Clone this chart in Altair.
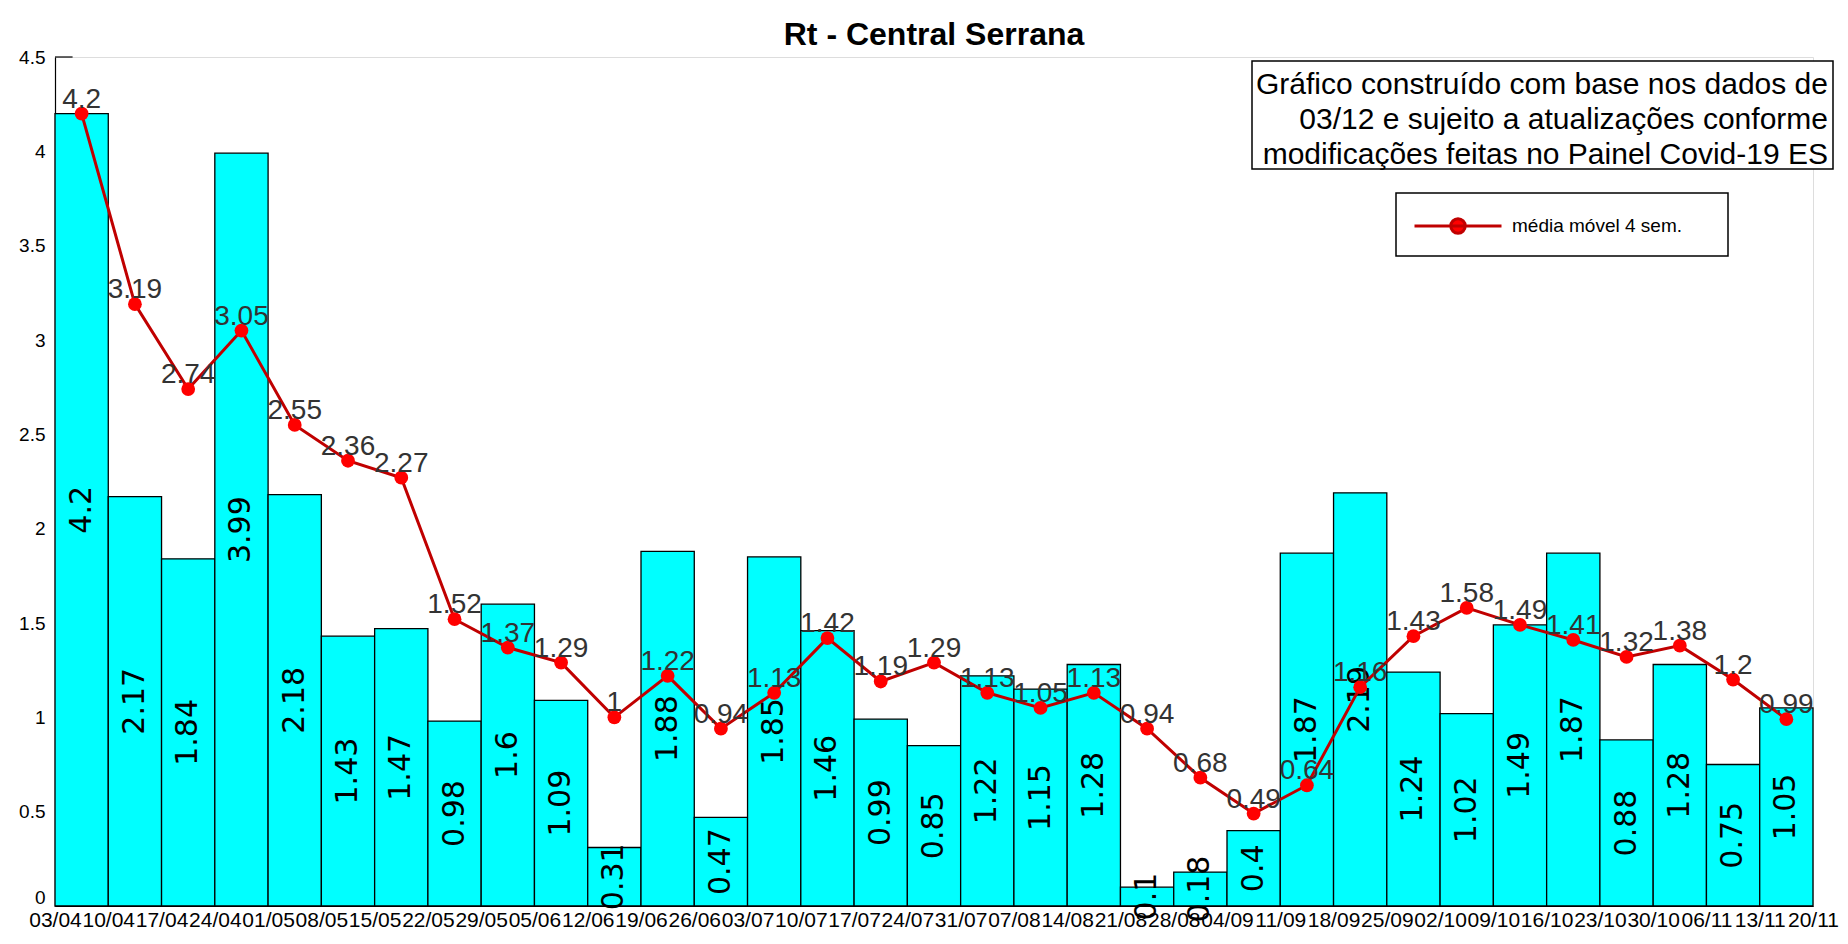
import json
import altair as alt
import pandas as pd

# ---------------- data ----------------
dates = ["03/04", "10/04", "17/04", "24/04", "01/05", "08/05", "15/05", "22/05", "29/05",
         "05/06", "12/06", "19/06", "26/06", "03/07", "10/07", "17/07", "24/07", "31/07",
         "07/08", "14/08", "21/08", "28/08", "04/09", "11/09", "18/09", "25/09", "02/10",
         "09/10", "16/10", "23/10", "30/10", "06/11", "13/11", "20/11"]
rt = [4.2, 2.17, 1.84, 3.99, 2.18, 1.43, 1.47, 0.98, 1.6, 1.09, 0.31, 1.88, 0.47, 1.85,
      1.46, 0.99, 0.85, 1.22, 1.15, 1.28, 0.1, 0.18, 0.4, 1.87, 2.19, 1.24, 1.02, 1.49,
      1.87, 0.88, 1.28, 0.75, 1.05]
mm = [4.2, 3.19, 2.74, 3.05, 2.55, 2.36, 2.27, 1.52, 1.37, 1.29, 1, 1.22, 0.94, 1.13,
      1.42, 1.19, 1.29, 1.13, 1.05, 1.13, 0.94, 0.68, 0.49, 0.64, 1.16, 1.43, 1.58, 1.49,
      1.41, 1.32, 1.38, 1.2, 0.99]
y_ticks = [0, 0.5, 1, 1.5, 2, 2.5, 3, 3.5, 4, 4.5]
note_lines = ["Gráfico construído com base nos dados de",
              "03/12 e sujeito a atualizações conforme",
              "modificações feitas no Painel Covid-19 ES"]
legend_label = "média móvel 4 sem."
chart_title = "Rt - Central Serrana"

FONT = "Liberation Sans"
n = len(rt)
W, H = 1758, 849

df = pd.DataFrame({"i": list(range(n)), "rt": rt, "mm": mm})
df["x0"] = df["i"] - 0.5
df["x1"] = df["i"] + 0.5
df["half"] = df["rt"] / 2
df["rt_lbl"] = [f"{v:g}" for v in rt]
df["mm_lbl"] = [f"{v:g}" for v in mm]
df["serie"] = legend_label

tick_df = pd.DataFrame({"v": y_ticks[1:]})
note_df = pd.DataFrame({"t": note_lines, "k": list(range(len(note_lines)))})
box_df = pd.DataFrame({"a": [0]})

xs = alt.Scale(domain=[-0.5, n - 0.5], nice=False, zero=False)
ys = alt.Scale(domain=[0, 4.5], nice=False)

label_expr = json.dumps(dates) + "[round(datum.value + 0.5)]"

x_axis = alt.Axis(values=[k - 0.5 for k in range(n + 1)], labelExpr=label_expr,
                  ticks=False, grid=False, labelFontSize=21, labelFont=FONT,
                  labelColor="black", domainColor="black", domainWidth=1.2,
                  labelOverlap=False, labelFlush=False, labelBound=False,
                  labelPadding=3, title=None)
y_axis = alt.Axis(values=y_ticks, labelExpr="'' + datum.value", ticks=False, grid=False,
                  labelFontSize=19, labelFont=FONT, labelColor="black",
                  labelOffset={"condition": {"test": "datum.value == 0", "value": -9}, "value": 0},
                  domainColor="black", domainWidth=1.2, labelPadding=10, title=None)

base = alt.Chart(df)

yticks = alt.Chart(tick_df).mark_rule(color="black", strokeWidth=1.2).encode(
    x=alt.datum(-0.5, scale=xs), x2=alt.datum(-0.17), y=alt.Y("v:Q", scale=ys)
)

bars = base.mark_bar(color="#00ffff", stroke="black", strokeWidth=1.3).encode(
    x=alt.X("x0:Q", scale=xs, axis=x_axis),
    x2="x1:Q",
    y=alt.Y("rt:Q", scale=ys, axis=y_axis),
    y2=alt.datum(0),
)

bar_labels = base.mark_text(angle=270, fontSize=30, font="DejaVu Sans", color="black",
                            align="center", baseline="middle").encode(
    x=alt.X("i:Q", scale=xs), y=alt.Y("half:Q", scale=ys), text="rt_lbl:N"
)

# legend symbol: a line segment with a dot in its middle
sym = "M-1,0H5M1.5,0A0.5,0.5,0,1,0,2.5,0A0.5,0.5,0,1,0,1.5,0Z"
line = base.mark_line(strokeWidth=3).encode(
    x=alt.X("i:Q", scale=xs), y=alt.Y("mm:Q", scale=ys),
    color=alt.Color("serie:N", scale=alt.Scale(domain=[legend_label], range=["#c00000"]),
                    legend=alt.Legend(title=None, orient="none", legendX=1341, legendY=136,
                                      symbolType=sym, symbolSize=841, symbolStrokeWidth=3,
                                      symbolFillColor="#ff0000", labelFontSize=19,
                                      labelFont=FONT, labelColor="black", labelOffset=67,
                                      labelLimit=0, padding=17)),
)

# frame of the legend
legend_box = alt.Chart(box_df).mark_rect(fill="white", stroke="black", strokeWidth=1.5).encode(
    x=alt.value(1341), x2=alt.value(1673), y=alt.value(136), y2=alt.value(199)
)

points = base.mark_point(filled=True, size=190, color="#ff0000", opacity=1).encode(
    x=alt.X("i:Q", scale=xs), y=alt.Y("mm:Q", scale=ys)
)

line_labels = base.mark_text(fontSize=28, font=FONT, dy=-6, baseline="alphabetic",
                             align="center", color="#333333").encode(
    x=alt.X("i:Q", scale=xs), y=alt.Y("mm:Q", scale=ys), text="mm_lbl:N"
)

note_box = alt.Chart(box_df).mark_rect(fill="white", stroke="black", strokeWidth=1.5).encode(
    x=alt.value(1197), x2=alt.value(1778), y=alt.value(4), y2=alt.value(112)
)

notes = alt.Chart(note_df).transform_calculate(py="37 + 35 * datum.k").mark_text(
    fontSize=30, font=FONT, align="right", baseline="alphabetic", color="black"
).encode(x=alt.value(1773), y=alt.Y("py:Q", scale=None), text="t:N")

chart = alt.layer(yticks, bars, bar_labels, line, points, line_labels, note_box, notes,
                  legend_box).properties(
    width=W, height=H,
    title=alt.TitleParams(text=chart_title, fontSize=32, fontWeight="bold", font=FONT,
                          anchor="middle", color="black", offset=-4),
    padding={"left": 47, "top": 49, "right": 27, "bottom": 29},
    autosize=alt.AutoSizeParams(type="none"),
).configure_view(stroke=None).configure(font=FONT)

chart.save("out.html", embed_options={"renderer": "svg", "actions": False})
